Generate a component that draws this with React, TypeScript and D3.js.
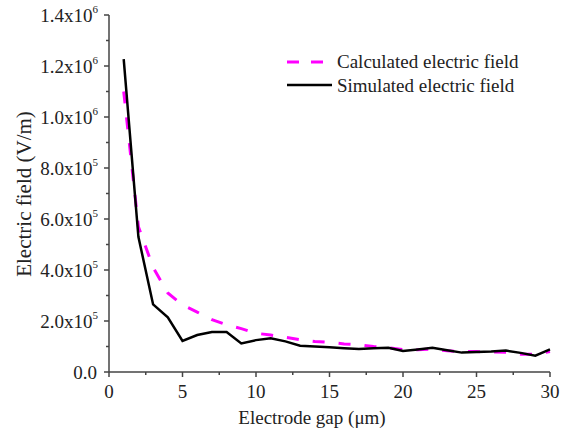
import React from "react";
import * as d3 from "d3";

const gaps = [1,2,3,4,5,6,7,8,9,10,11,12,13,14,15,16,17,18,19,20,21,22,23,24,25,26,27,28,29,30];
const calculated = [1.10e6,0.57e6,0.41e6,0.31e6,0.263e6,0.235e6,0.205e6,0.185e6,0.17e6,0.152e6,0.145e6,0.136e6,0.127e6,0.12e6,0.116e6,0.11e6,0.107e6,0.1e6,0.095e6,0.088e6,0.087e6,0.09e6,0.083e6,0.08e6,0.08e6,0.079e6,0.077e6,0.07e6,0.07e6,0.08e6];
const simulated = [1.227e6,0.53e6,0.265e6,0.214e6,0.122e6,0.145e6,0.157e6,0.157e6,0.112e6,0.125e6,0.132e6,0.12e6,0.103e6,0.1e6,0.097e6,0.093e6,0.09e6,0.093e6,0.095e6,0.082e6,0.088e6,0.095e6,0.085e6,0.076e6,0.078e6,0.08e6,0.084e6,0.075e6,0.064e6,0.089e6];
const xTicks = [0,5,10,15,20,25,30];
const xMinor = [2.5,7.5,12.5,17.5,22.5,27.5];
const yTicks = [0,2e5,4e5,6e5,8e5,1e6,1.2e6,1.4e6];
const yMantissa = ["0.0","2.0x10","4.0x10","6.0x10","8.0x10","1.0x10","1.2x10","1.4x10"];
const yExp = ["","5","5","5","5","6","6","6"];
const yMinor = [1e5,3e5,5e5,7e5,9e5,1.1e6,1.3e6];
const seriesNames = ["Calculated electric field","Simulated electric field"];

export default function App() {
  const W = 561, H = 433;
  const x = d3.scaleLinear().domain([0,30]).range([109,550]);
  const y = d3.scaleLinear().domain([0,1.4e6]).range([372,15]);
  const line = d3.line<number>().x((_, i) => x(gaps[i])).y(d => y(d));
  const font = "'Liberation Serif', 'Times New Roman', serif";
  const axisColor = "#444";
  return (
    <svg width={W} height={H} style={{position:"absolute",left:0,top:0,background:"#fff"}} fontFamily={font}>
      <rect width={W} height={H} fill="#fff" />
      {/* axes */}
      <line x1={x(0)} x2={x(30)} y1={y(0)} y2={y(0)} stroke={axisColor} strokeWidth={1.5} />
      <line x1={x(0)} x2={x(0)} y1={y(0)} y2={y(1.4e6)} stroke={axisColor} strokeWidth={1.5} />
      {xTicks.map(t => (
        <g key={"xt"+t}>
          <line x1={x(t)} x2={x(t)} y1={y(0)} y2={y(0)+5} stroke={axisColor} strokeWidth={1.5} />
          <text x={x(t)} y={398} fontSize={19} textAnchor="middle" fill="#222">{t}</text>
        </g>
      ))}
      {xMinor.map(t => (
        <line key={"xm"+t} x1={x(t)} x2={x(t)} y1={y(0)} y2={y(0)+3} stroke={axisColor} strokeWidth={1.5} />
      ))}
      {yTicks.map((t, i) => (
        <g key={"yt"+t}>
          <line x1={x(0)-5} x2={x(0)} y1={y(t)} y2={y(t)} stroke={axisColor} strokeWidth={1.5} />
          <text x={yExp[i] ? 98 : 97} y={y(t)+6.5} fontSize={19} textAnchor="end" fill="#222">
            {yMantissa[i]}
            {yExp[i] && <tspan fontSize={11} dy={-9}>{yExp[i]}</tspan>}
          </text>
        </g>
      ))}
      {yMinor.map(t => (
        <line key={"ym"+t} x1={x(0)-3} x2={x(0)} y1={y(t)} y2={y(t)} stroke={axisColor} strokeWidth={1.5} />
      ))}
      {/* axis titles */}
      <text x={312} y={424} fontSize={19} textAnchor="middle" fill="#222">Electrode gap (μm)</text>
      <text transform="translate(31,194) rotate(-90)" fontSize={21} textAnchor="middle" fill="#222">Electric field (V/m)</text>
      {/* series */}
      <path d={line(calculated) || ""} fill="none" stroke="#ff00ff" strokeWidth={3} strokeDasharray="12,14" />
      <path d={line(simulated) || ""} fill="none" stroke="#000" strokeWidth={2.5} strokeLinejoin="miter" />
      {/* legend */}
      <line x1={287} x2={324} y1={62} y2={62} stroke="#ff00ff" strokeWidth={3} strokeDasharray="12,12" />
      <text x={337} y={68} fontSize={19} fill="#222">{seriesNames[0]}</text>
      <line x1={287} x2={332} y1={85} y2={85} stroke="#000" strokeWidth={2.5} />
      <text x={337} y={92} fontSize={19} fill="#222">{seriesNames[1]}</text>
    </svg>
  );
}
